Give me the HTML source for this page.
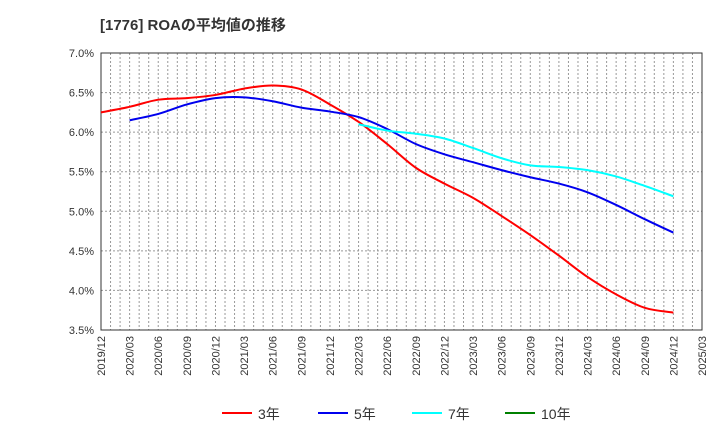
<!DOCTYPE html>
<html><head><meta charset="utf-8"><style>
body{margin:0;background:#fff;font-family:"Liberation Sans","Noto Sans CJK JP",sans-serif}
</style></head><body>
<svg id="c" width="720" height="440" xmlns="http://www.w3.org/2000/svg">
<text x="100" y="30" font-size="15" font-weight="bold" fill="#333" font-family="Liberation Sans,Noto Sans CJK JP,sans-serif">[1776]  ROAの平均値の推移</text>
<g id="grid"></g><g id="axes"></g><g id="series"></g><g id="legend"></g>
</svg>
<script>
const xLabels=["2019/12","2020/03","2020/06","2020/09","2020/12","2021/03","2021/06","2021/09","2021/12","2022/03","2022/06","2022/09","2022/12","2023/03","2023/06","2023/09","2023/12","2024/03","2024/06","2024/09","2024/12","2025/03"];
const yTicks=[3.5,4.0,4.5,5.0,5.5,6.0,6.5,7.0];
const s3=[6.25,6.32,6.41,6.43,6.47,6.55,6.59,6.54,6.35,6.13,5.85,5.55,5.35,5.17,4.94,4.70,4.44,4.17,3.95,3.78,3.72];
const s5=[null,6.15,6.23,6.35,6.43,6.44,6.39,6.31,6.26,6.19,6.04,5.85,5.72,5.62,5.52,5.43,5.35,5.24,5.08,4.90,4.73];
const s7=[null,null,null,null,null,null,null,null,null,6.10,6.02,5.98,5.92,5.80,5.67,5.58,5.56,5.52,5.44,5.32,5.19];
const s10=[];
const NS="http://www.w3.org/2000/svg";
const L=101,R=702,T=53,B=330;
const x=i=>L+i*(R-L)/(xLabels.length-1);
const y=v=>B-(v-3.5)/(7.0-3.5)*(B-T);
function mk(t,a,p){const e=document.createElementNS(NS,t);for(const k in a)e.setAttribute(k,a[k]);p.appendChild(e);return e;}
const grid=document.getElementById('grid'),axes=document.getElementById('axes'),ser=document.getElementById('series'),leg=document.getElementById('legend');
const months=(xLabels.length-1)*3;
for(let m=1;m<months;m++){const xx=L+m*(R-L)/months;
const g=mk('line',{x1:xx,x2:xx,y1:T,y2:B,stroke:'#999','stroke-dasharray':'2,2','stroke-width':1},grid);

}
yTicks.forEach(v=>{const yy=y(v);
if(v>3.5&&v<7.0){const g=mk('line',{x1:L,x2:R,y1:yy,y2:yy,stroke:'#999','stroke-dasharray':'2,2'},grid);

}
const t=mk('text',{x:L-7,y:yy+4,'text-anchor':'end','font-size':11,fill:'#333'},axes);t.textContent=v.toFixed(1)+'%';

});
xLabels.forEach((lab,i)=>{const t=mk('text',{transform:`translate(${x(i)+4},${B+6}) rotate(-90)`,'text-anchor':'end','font-size':11,fill:'#333'},axes);t.textContent=lab;

});
const fr=mk('rect',{x:L,y:T,width:R-L,height:B-T,fill:'none',stroke:'#333'},axes);


function path(d){const p=[];d.forEach((v,i)=>{if(v!=null)p.push([x(i),y(v)]);});if(p.length<2)return '';
let s=`M${p[0][0]},${p[0][1]}`;for(let i=0;i<p.length-1;i++){const p0=p[i-1]||p[i],p1=p[i],p2=p[i+1],p3=p[i+2]||p2;
s+=`C${p1[0]+(p2[0]-p0[0])/6},${p1[1]+(p2[1]-p0[1])/6} ${p2[0]-(p3[0]-p1[0])/6},${p2[1]-(p3[1]-p1[1])/6} ${p2[0]},${p2[1]}`;}return s;}
const defs=[[s3,'#ff0000','3年','series-3y'],[s5,'#0000ee','5年','series-5y'],[s7,'#00ffff','7年','series-7y'],[s10,'#008000','10年','series-10y']];
defs.forEach(([d,c,n,nm],k)=>{const pd=path(d);if(pd){const e=mk('path',{d:pd,fill:'none',stroke:c,'stroke-width':2},ser);

}
const lx=[222,318,412,505][k];
const g=mk('g',{},leg);


mk('line',{x1:lx,x2:lx+30,y1:413,y2:413,stroke:c,'stroke-width':2},g);
const t=mk('text',{x:lx+36,y:419,'font-size':14,fill:'#333'},g);t.textContent=n;});
</script>
</body></html>
